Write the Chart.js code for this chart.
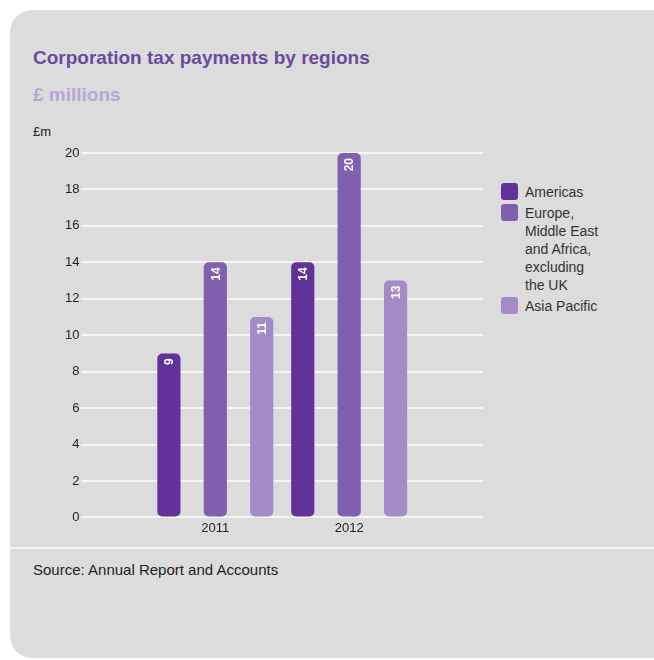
<!DOCTYPE html>
<html>
<head>
<meta charset="utf-8">
<script src="https://cdn.jsdelivr.net/npm/chart.js@4"></script>
<style>
  body { margin: 0; background: #ffffff; font-family: "Liberation Sans", Arial, sans-serif; }
  #card { position: absolute; left: 10px; top: 10px; width: 670px; height: 648px; background: #dcdcdc; border-radius: 22px; }
  #title { position: absolute; left: 33px; top: 47px; font-size: 19px; font-weight: bold; color: #6b4a9e; }
  #subtitle { position: absolute; left: 33px; top: 84px; font-size: 19px; font-weight: bold; color: #b9a5d6; }
  #unit { position: absolute; left: 33px; top: 124px; font-size: 13px; color: #222; }
  #sep { position: absolute; left: 10px; top: 547px; width: 650px; height: 2px; background: #f4f4f4; }
  #source { position: absolute; left: 33px; top: 561px; font-size: 15px; color: #222; }
  #wrap { position: absolute; left: 20px; top: 140px; width: 470px; height: 399px; }
  #legend { position: absolute; left: 501px; top: 183px; font-size: 14px; color: #333; line-height: 18px; }
  .item { display: flex; align-items: flex-start; margin-bottom: 3px; }
  .box { width: 17px; height: 17px; border-radius: 3px; margin-right: 7px; flex: none; }
</style>
</head>
<body>
<div id="card"></div>
<div id="title">Corporation tax payments by regions</div>
<div id="subtitle">£ millions</div>
<div id="unit">£m</div>
<div id="wrap"><canvas id="taxChart"></canvas></div>
<div id="legend"></div>
<div id="sep"></div>
<div id="source">Source: Annual Report and Accounts</div>
<script>
const years = ['2011', '2012'];
const seriesNames = ['Americas', 'Europe,\nMiddle East\nand Africa,\nexcluding\nthe UK', 'Asia Pacific'];
const americas = [9, 14];
const europe = [14, 20];
const asiaPacific = [11, 13];
const colors = ['#61339a', '#7f5fae', '#a48ac6'];

// blank slots either side so the two groups sit where the original puts them
const labels = [''].concat(years, ['']);
const pad = arr => [null].concat(arr, [null]);

const valueLabels = {
    id: 'valueLabels',
    afterDatasetsDraw(chart) {
        const ctx = chart.ctx;
        ctx.save();
        ctx.fillStyle = '#ffffff';
        ctx.font = 'bold 12px "Liberation Sans", Arial, sans-serif';
        ctx.textAlign = 'right';
        ctx.textBaseline = 'middle';
        chart.data.datasets.forEach((ds, i) => {
            chart.getDatasetMeta(i).data.forEach((bar, j) => {
                if (ds.data[j] == null) return;
                ctx.save();
                ctx.translate(bar.x + 1, bar.y + 5);
                ctx.rotate(-Math.PI / 2);
                ctx.fillText(ds.data[j], 0, 0);
                ctx.restore();
            });
        });
        ctx.restore();
    }
};

const ctx = document.getElementById('taxChart').getContext('2d');
const taxChart = new Chart(ctx, {
    type: 'bar',
    data: {
        labels: labels,
        datasets: [americas, europe, asiaPacific].map((d, i) => ({
            label: seriesNames[i],
            data: pad(d),
            backgroundColor: colors[i],
            borderRadius: 5,
            borderSkipped: false,
            categoryPercentage: 1.04,
            barPercentage: 0.5
        }))
    },
    options: {
        responsive: true,
        maintainAspectRatio: false,
        animation: false,
        layout: { padding: { left: 43, right: 7, top: 13, bottom: 0 } },
        plugins: {
            legend: { display: false },
            tooltip: { enabled: false }
        },
        scales: {
            x: {
                offset: false,
                grid: { display: false, drawTicks: false },
                border: { display: false },
                ticks: { color: '#222', font: { size: 13 }, padding: 3 }
            },
            y: {
                min: 0,
                max: 20,
                grid: { color: '#f6f6f6', lineWidth: 2, drawTicks: false },
                border: { display: false },
                ticks: { stepSize: 2, color: '#222', font: { size: 13 }, padding: 2 }
            }
        }
    },
    plugins: [valueLabels]
});

// html legend, the middle label wraps over several lines
const legend = document.getElementById('legend');
taxChart.data.datasets.forEach(ds => {
    const item = document.createElement('div');
    item.className = 'item';
    item.innerHTML = '<span class="box" style="background:' + ds.backgroundColor + '"></span><span>' +
        ds.label.replace(/\n/g, '<br>') + '</span>';
    legend.appendChild(item);
});
</script>
</body>
</html>
